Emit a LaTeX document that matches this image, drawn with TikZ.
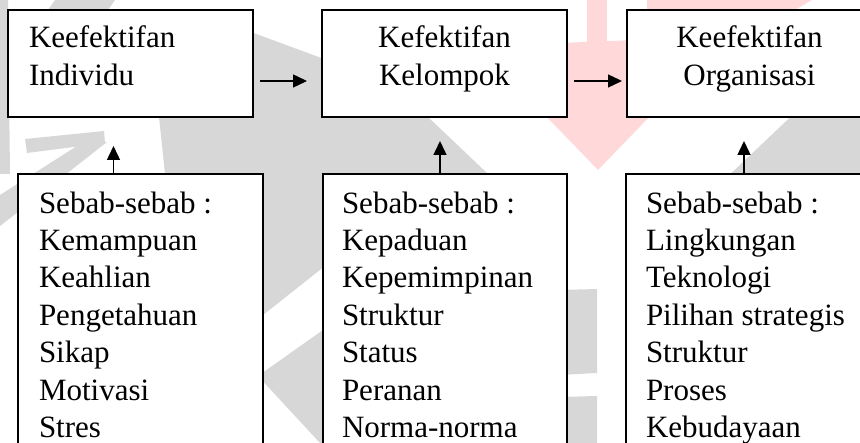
\documentclass[tikz,border=0pt]{standalone}
\usepackage{fontspec}
\setmainfont{Liberation Serif}
\usetikzlibrary{arrows.meta}
\definecolor{markgray}{RGB}{215,215,215}
\definecolor{markpink}{RGB}{255,217,217}
\tikzset{
  box/.style={draw=black, line width=1.3pt, fill=white, inner sep=0pt, outer sep=0pt},
  txt/.style={inner sep=0pt, outer sep=0pt, font=\fontsize{31}{37.5}\selectfont},
  arr/.style={line width=1.4pt, -{Triangle[length=14pt,width=13pt]}},
}
\begin{document}
\begin{tikzpicture}[x=1pt,y=-1pt]
\useasboundingbox (0,0) rectangle (860,443);
\clip (0,0) rectangle (860,443);

% faint logo in the background
\fill[markgray] (0,0) -- (8,0) -- (10,174) -- (0,174) -- cycle;
\fill[markgray] (55,0) -- (115,0) -- (108,10) -- (48,10) -- cycle;
\fill[markgray] (240,28) -- (335,63) -- (335,180) -- (240,180) -- cycle;
\fill[markgray] (159,117) -- (428,117) -- (488,174) -- (165,174) -- cycle;
\fill[markgray] (25,139) -- (104,131) -- (105,143) -- (27,153) -- cycle;
\fill[markgray] (77,146) -- (107,142) -- (0,226) -- (0,195) -- cycle;
\fill[markgray] (800,108) -- (870,108) -- (870,180) -- (724,180) -- cycle;
\fill[markgray] (258,170) -- (330,170) -- (330,262) -- (258,319) -- cycle;
\fill[markgray] (258,376) -- (330,325) -- (330,460) -- (320,443) -- cycle;
\fill[markgray] (560,290) -- (597,289) -- (597,373) -- (560,375) -- cycle;
\fill[markgray] (560,397) -- (597,396) -- (597,450) -- (560,450) -- cycle;
\fill[markpink] (587,0) -- (607,0) -- (607,45) -- (587,45) -- cycle;
\fill[markpink] (560,43) -- (635,40) -- (635,117) -- (560,117) -- cycle;
\fill[markpink] (540,110) -- (656,110) -- (598,170) -- cycle;
\fill[markpink] (647,0) -- (812,0) -- (795,10) -- (647,10) -- cycle;

% effectiveness levels
\node[box, minimum width=245pt, minimum height=107pt] (k1) at (130.5,63.5) {};
\node[box, minimum width=245pt, minimum height=107pt] (k2) at (444.5,63.5) {};
\node[box, minimum width=245pt, minimum height=107pt] (k3) at (749.5,63.5) {};

% causes
\node[box, minimum width=245pt, minimum height=286pt] (s1) at (140.5,317) {};
\node[box, minimum width=244pt, minimum height=286pt] (s2) at (445,317) {};
\node[box, minimum width=245pt, minimum height=286pt] (s3) at (748.5,317) {};

% texts
\node[txt, anchor=north west, align=left] (t1) at (29,21.75) {\strut Keefektifan\\Individu};
\node[txt, anchor=north, align=center] (t2) at (444.5,21.75) {\strut Kefektifan\\Kelompok};
\node[txt, anchor=north, align=center] (t3) at (749.5,21.75) {\strut Keefektifan\\Organisasi};

\node[txt, anchor=north west, align=left] (c1) at (39,186.75)
  {\strut Sebab-sebab :\\Kemampuan\\Keahlian\\Pengetahuan\\Sikap\\Motivasi\\Stres};
\node[txt, anchor=north west, align=left] (c2) at (342,186.75)
  {\strut Sebab-sebab :\\Kepaduan\\Kepemimpinan\\Struktur\\Status\\Peranan\\Norma-norma};
\node[txt, anchor=north west, align=left] (c3) at (646,186.75)
  {\strut Sebab-sebab :\\Lingkungan\\Teknologi\\Pilihan strategis\\Struktur\\Proses\\Kebudayaan};

% connectors
\draw[arr, shorten <=7pt, shorten >=15pt] ([yshift=-17.5pt]k1.east) -- ([yshift=-17.5pt]k2.west);
\draw[arr, shorten <=7pt, shorten >=5pt] ([yshift=-17.5pt]k2.east) -- ([yshift=-17.5pt]k3.west);
\draw[arr, shorten >=29pt] ([xshift=-27pt]s1.north) -- ([xshift=-27pt]s1.north |- k1.south);
\draw[arr, shorten >=24pt] ([xshift=-5pt]s2.north) -- ([xshift=-5pt]s2.north |- k2.south);
\draw[arr, shorten >=24pt] ([xshift=-4.5pt]s3.north) -- ([xshift=-4.5pt]s3.north |- k3.south);
\end{tikzpicture}
\end{document}
